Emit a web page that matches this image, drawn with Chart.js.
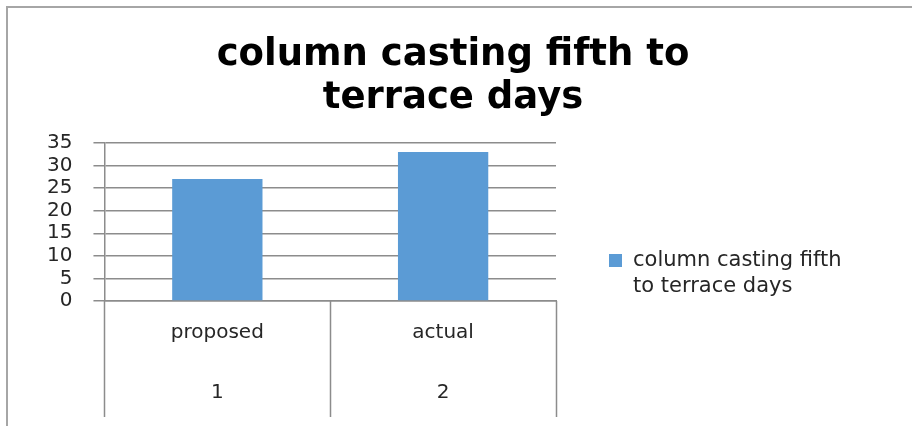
<!DOCTYPE html>
<html>
<head>
<meta charset="utf-8">
<script src="https://cdn.jsdelivr.net/npm/chart.js@4"></script>
<style>
  html, body { margin: 0; padding: 0; background: #fff; }
  #wrap { position: relative; width: 912px; height: 426px; overflow: hidden; }
  #frame { position: absolute; left: 6px; top: 6px; width: 910px; height: 440px; border: 2px solid #a6a6a6; border-right: none; box-sizing: border-box; }
  #chart { position: absolute; left: 0; top: 0; }
</style>
</head>
<body>
<div id="wrap">
  <div id="frame"></div>
  <canvas id="chart" width="912" height="426"></canvas>
</div>
<script>
  const categories = ['proposed', 'actual'];
  const groupLabels = ['1', '2'];
  const seriesName = 'column casting fifth to terrace days';
  const titleLines = ['column casting fifth to', 'terrace days'];
  const legendLines = ['column casting fifth', 'to terrace days'];
  const values = [27, 33];
  const yTickValues = [0, 5, 10, 15, 20, 25, 30, 35];

  const barColor = '#5b9bd5';
  const gridColor = '#8c8c8c';
  const textColor = '#262626';

  // title, legend and the category dividers under the axis are drawn by hand
  const extras = {
    id: 'extras',
    afterDraw(chart) {
      const ctx = chart.ctx;
      const ds = chart.data.datasets[0];
      const xs = chart.scales.x;
      ctx.save();

      // dividers between the category cells
      const n = chart.data.labels.length;
      const cell = xs.width / n;
      ctx.strokeStyle = gridColor;
      ctx.lineWidth = 1.5;
      ctx.beginPath();
      for (let i = 0; i <= n; i++) {
        const x = Math.round(xs.left + i * cell) + 0.5;
        ctx.moveTo(x, xs.top);
        ctx.lineTo(x, xs.top + 116);
      }
      ctx.stroke();

      ctx.textBaseline = 'middle';
      ctx.fillStyle = '#000';
      ctx.textAlign = 'center';
      ctx.font = 'bold 37px "DejaVu Sans"';
      titleLines.forEach((t, i) => ctx.fillText(t, 453, 55 + i * 43));

      ctx.fillStyle = ds.backgroundColor;
      ctx.fillRect(609, 254, 13, 13);
      ctx.fillStyle = textColor;
      ctx.textAlign = 'left';
      ctx.font = '21px "DejaVu Sans"';
      legendLines.forEach((t, i) => ctx.fillText(t, 633, 261 + i * 26));
      ctx.restore();
    }
  };

  const ctx = document.getElementById('chart').getContext('2d');
  const chart = new Chart(ctx, {
    type: 'bar',
    data: {
      labels: categories.map((c, i) => [c, groupLabels[i]]),
      datasets: [{
        label: seriesName,
        data: values,
        backgroundColor: barColor,
        barPercentage: 0.4,
        categoryPercentage: 1.0
      }]
    },
    options: {
      responsive: false,
      animation: false,
      layout: { padding: { left: 26, right: 356, top: 143, bottom: 9 } },
      plugins: {
        legend: { display: false },
        tooltip: { enabled: false },
        title: { display: false }
      },
      scales: {
        x: {
          grid: { display: false },
          border: { display: true, color: gridColor, width: 1.5 },
          ticks: {
            color: textColor,
            padding: -6,
            maxRotation: 0,
            autoSkip: false,
            font: { family: '"DejaVu Sans"', size: 20, lineHeight: 3 }
          }
        },
        y: {
          min: 0,
          max: 35,
          afterBuildTicks: (s) => { s.ticks = yTickValues.map(v => ({ value: v })); },
          grid: { color: gridColor, tickLength: 11, lineWidth: 1.5 },
          border: { display: true, color: gridColor, width: 1.5 },
          ticks: {
            color: textColor,
            padding: 21,
            autoSkip: false,
            font: { family: '"DejaVu Sans"', size: 20, lineHeight: 1 }
          }
        }
      }
    },
    plugins: [extras]
  });
</script>
</body>
</html>
